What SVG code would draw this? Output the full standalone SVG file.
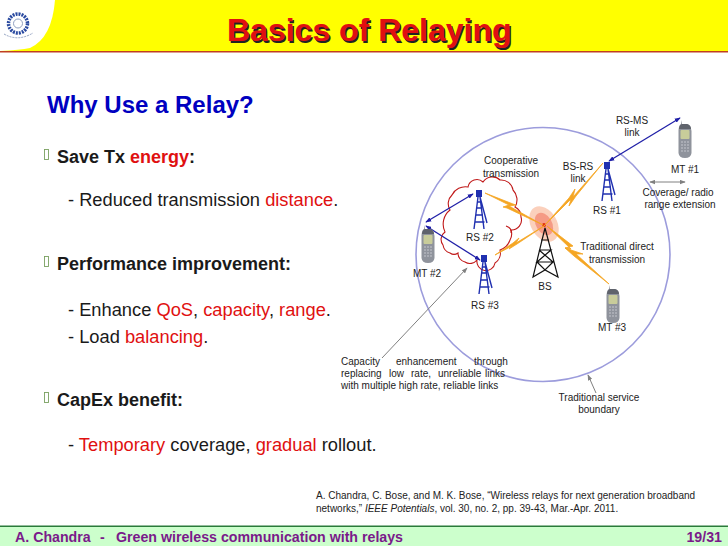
<svg xmlns="http://www.w3.org/2000/svg" width="728" height="546" viewBox="0 0 728 546">
<style>
text{font-family:"Liberation Sans",Arial,sans-serif;fill:#1a1a1a}
.s{font-size:10px;text-anchor:middle;fill:#222}
.j{font-size:10px;fill:#222}
.r{font-size:10px;fill:#222}
.h{font-size:18px;font-weight:bold}
.b{font-size:18.300px}
.e{fill:#e01010}
.bolt{fill:#f5a623;stroke:#f5a623;stroke-width:.8;stroke-linejoin:round}
.blue{stroke:#2020a8;stroke-width:1.300;fill:none;marker-start:url(#ab);marker-end:url(#ab)}
.gray{stroke:#808080;stroke-width:1;fill:none}
.tw{stroke:#2030b0;stroke-width:1.400;fill:none}
.bul{fill:none;stroke:#7aa060;stroke-width:.9}
.foot{font-size:14.200px;font-weight:bold;fill:#7a1a8a}
</style>
<defs>
<marker id="ab" viewBox="0 0 8 6" refX="7" refY="3" markerWidth="6" markerHeight="5" orient="auto-start-reverse" markerUnits="userSpaceOnUse"><path d="M0,0L8,3L0,6z" fill="#2020a8"/></marker>
<marker id="ag" viewBox="0 0 8 6" refX="7" refY="3" markerWidth="6" markerHeight="5" orient="auto-start-reverse" markerUnits="userSpaceOnUse"><path d="M0,0L8,3L0,6z" fill="#808080"/></marker>
<symbol id="tower" overflow="visible">
<rect x="-3" y="0" width="6" height="7" fill="#2030b0"/>
<path class="tw" d="M-1,7L-5,39M1,7L5,39M1,7L8,33M-3,18H3M-3.500,25H4M-4.500,32H5.500M-2,12H2"/>
</symbol>
<symbol id="phone" overflow="visible">
<path d="M3,0L4,4H9Q13,5 13.500,11V33Q13,38 7,38Q1,38 .5,33V10Q1,5 3,4Z" fill="#8f939c"/>
<path d="M4,4H9Q13,5 13,9H1Q1,5 4,4Z" fill="#5f636c"/>
<rect x="2.500" y="10" width="9" height="9" rx="1" fill="#c8cc9a"/>
<path d="M3,22H11M3,25H11M3,28H11M3,31H11" stroke="#c4c6cc" stroke-width="1.200" stroke-dasharray="2 1"/>
</symbol>
</defs>
<rect width="728" height="546" fill="#fff"/>
<g id="header">
<rect width="728" height="51" fill="#ffff00"/>
<path d="M0,0H55Q52,38 30,48Q20,50 0,51Z" fill="#fff"/>
<rect y="51" width="728" height="1.500" fill="#c04020"/>
<g id="logo" fill="none" stroke="#2a4aa0">
<circle cx="18" cy="23.500" r="9.500" stroke-width="3.500" stroke-dasharray="2 1"/>
<circle cx="18" cy="23.500" r="4.500" stroke-width="1" stroke="#90a0c0"/>
<path d="M4,34Q18,42 33,33" stroke-width="1" stroke="#90a0c0" stroke-dasharray="2 1"/>
</g>
<text x="228.500" y="42.500" font-size="32" font-weight="bold" style="fill:#222">Basics of Relaying</text>
<text x="227" y="41" font-size="32" font-weight="bold" style="fill:#e01010">Basics of Relaying</text>
</g>
<g id="slide-text">
<text x="47" y="113" font-size="24" font-weight="bold" style="fill:#0000c0">Why Use a Relay?</text>
<rect class="bul" x="44.500" y="149.500" width="4" height="10"/>
<text x="57" y="163" class="h">Save Tx <tspan class="e">energy</tspan>:</text>
<text x="68" y="206" class="b">- Reduced transmission <tspan class="e">distance</tspan>.</text>
<rect class="bul" x="44.500" y="256.500" width="4" height="10"/>
<text x="57" y="270" class="h">Performance improvement:</text>
<text x="68" y="316" class="b">- Enhance <tspan class="e">QoS</tspan>, <tspan class="e">capacity</tspan>, <tspan class="e">range</tspan>.</text>
<text x="68" y="343" class="b">- Load <tspan class="e">balancing</tspan>.</text>
<rect class="bul" x="44.500" y="392.500" width="4" height="10"/>
<text x="57" y="406" class="h">CapEx benefit:</text>
<text x="68" y="451" class="b">- <tspan class="e">Temporary</tspan> coverage, <tspan class="e">gradual</tspan> rollout.</text>
</g>
<g id="boundary"><circle cx="543" cy="254.500" r="127" fill="none" stroke="#9c9cdc" stroke-width="1.600"/></g>
<g id="cloud" fill="none" stroke="#c01818" stroke-width="1.100">
<path d="M468,187A9,9 0 0 1 483,182A11,11 0 0 1 500,180A12,12 0 0 1 513,190A14,14 0 0 1 515,207A11,11 0 0 1 521,217A10,10 0 0 1 511,230A12,12 0 0 1 510,240A16,16 0 0 1 500,250A12,12 0 0 1 495,263A9,9 0 0 1 477,260A9,9 0 0 1 465,262A9,9 0 0 1 458,253A7,7 0 0 1 450,253A10,10 0 0 1 443,245A9,9 0 0 1 445,232A18,18 0 0 1 450,210A12,12 0 0 1 452,195A15,15 0 0 1 468,187Z"/>
<path d="M506,226Q512,228 511,233"/>
</g>
<g id="bs-glow">
<ellipse cx="544" cy="224" rx="13" ry="19" transform="rotate(-30 544 224)" fill="#fbd0bc"/>
<ellipse cx="544" cy="224" rx="8" ry="12" transform="rotate(-30 544 224)" fill="#f59a85"/>
<circle cx="544" cy="225" r="2" fill="#e03010"/>
</g>
<g id="connectors">
<path class="bolt" d="M544,226L569,198L575,189L573,197L603,163L576,196L569,206L571,199Z"/>
<path class="bolt" d="M485,193L513,204L516,205L509,206L543,225L507,208L503,207L509,205Z"/>
<path class="bolt" d="M495,255L513,243L519,238L516,243L544,226L517,244L509,249L512,246Z"/>
<path class="bolt" d="M547,226L573,246L565,248L583,254L576,254L609,284L574,256L565,248L571,249Z"/>
<path class="blue" d="M609,161L680,118"/>
<path class="blue" d="M473,194L426,222"/>
<path class="blue" d="M480,260L426,226"/>
<path class="gray" marker-start="url(#ag)" marker-end="url(#ag)" d="M650,182H685"/>
<path class="gray" marker-end="url(#ag)" d="M382,358L467,268"/>
<path class="gray" marker-end="url(#ag)" d="M596,393L588,375"/>
</g>
<g id="bs">
<path d="M545,228L533,277L545,270L558,277ZM541,240L549,240M539,250L553,262L537,262L551,250L539,250M537,262L545,270L553,262" fill="none" stroke="#111" stroke-width="1.200"/>
<text x="545" y="290" class="s">BS</text>
</g>
<g id="rs1"><use href="#tower" x="607" y="162"/><text x="607" y="214" class="s">RS #1</text></g>
<g id="rs2"><use href="#tower" x="479" y="190"/><text x="480" y="241" class="s">RS #2</text></g>
<g id="rs3"><use href="#tower" x="484" y="255"/><text x="485" y="309" class="s">RS #3</text></g>
<g id="mt1"><use href="#phone" x="678" y="120"/><text x="685" y="173" class="s">MT #1</text></g>
<g id="mt2"><use href="#phone" x="421" y="225"/><text x="427" y="277" class="s">MT #2</text></g>
<g id="mt3"><use href="#phone" x="606" y="285"/><text x="612" y="331" class="s">MT #3</text></g>
<g id="labels">
<text class="s" x="632" y="124">RS-MS</text><text class="s" x="632" y="136">link</text>
<text class="s" x="511" y="164">Cooperative</text><text class="s" x="511" y="177">transmission</text>
<text class="s" x="578" y="170">BS-RS</text><text class="s" x="578" y="182">link</text>
<text class="s" x="678" y="196">Coverage/ radio</text><text class="s" x="680" y="208">range extension</text>
<text class="s" x="617" y="250">Traditional direct</text><text class="s" x="617" y="263">transmission</text>
<text class="j" y="365"><tspan x="341">Capacity</tspan><tspan x="396">enhancement</tspan><tspan x="474">through</tspan></text>
<text class="j" y="377"><tspan x="341">replacing</tspan><tspan x="389">low</tspan><tspan x="411">rate,</tspan><tspan x="438">unreliable</tspan><tspan x="485">links</tspan></text>
<text class="j" x="341" y="389">with multiple high rate, reliable links</text>
<text class="s" x="599" y="401">Traditional service</text><text class="s" x="599" y="413">boundary</text>
</g>
<g id="reference">
<text class="r" x="316" y="499">A. Chandra, C. Bose, and M. K. Bose, “Wireless relays for next generation broadband</text>
<text class="r" x="316" y="512">networks,” <tspan font-style="italic">IEEE Potentials</tspan>, vol. 30, no. 2, pp. 39-43, Mar.-Apr. 2011.</text>
</g>
<g id="footer">
<rect y="527" width="728" height="19" fill="#ccffcc"/>
<rect y="525.500" width="728" height="1.500" fill="#2a7a3a"/>
<text class="foot" y="542"><tspan x="15">A. Chandra</tspan><tspan x="100">-</tspan><tspan x="116">Green wireless communication with relays</tspan></text>
<text class="foot" x="722" y="542" text-anchor="end">19/31</text>
</g>
</svg>
